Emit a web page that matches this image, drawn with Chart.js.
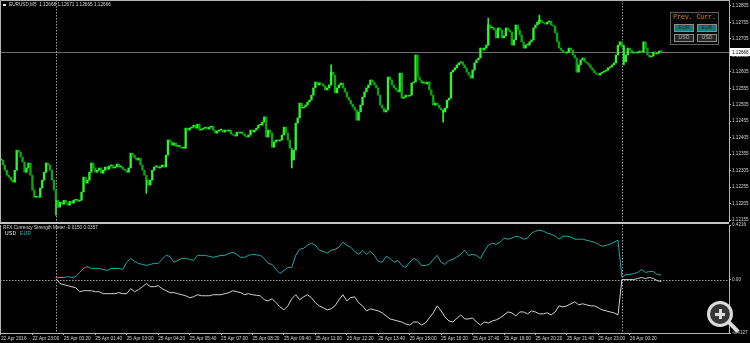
<!DOCTYPE html>
<html>
<head>
<meta charset="utf-8">
<script src="https://cdn.jsdelivr.net/npm/chart.js@4.4.1/dist/chart.umd.min.js"></script>
<style>
  html, body { margin: 0; padding: 0; background: #000; }
  #wrap { position: relative; width: 750px; height: 343px; overflow: hidden; background: #000; font-family: 'Liberation Sans', Arial, sans-serif; }
  canvas { position: absolute; left: 0; }
  #priceChart { top: 0; }
  #indChart { top: 222px; }
  .txt { position: absolute; white-space: pre; color: #d6d6d6; font-size: 4.7px; line-height: 6px; }
  #symIcon { position: absolute; left: 3px; top: 4px; width: 3px; height: 2px; background: #e8e8e8; }
  #panel { position: absolute; left: 670px; top: 12px; width: 47px; height: 31px; border: 1px solid #5c5c5c; background: #080808; }
  #pc { position: absolute; left: 2px; top: 1px; font-family: 'Liberation Mono', monospace; font-size: 6.5px; line-height: 8px; color: #c97d1c; white-space: pre; }
  .btn { position: absolute; width: 18px; height: 6px; border: 1px solid #8c8c8c; font-family: 'Liberation Mono', monospace; font-size: 6px; line-height: 6px; text-align: center; }
  .eur { background: #1a7777; color: #08302f; }
  .usd { background: #262626; color: #a8a8a8; }
  .mg { position: absolute; background: #dcdcdc; }
  #ring { position: absolute; left: 707px; top: 301px; width: 26px; height: 26px; box-sizing: border-box; border: 3px solid #dcdcdc; border-radius: 50%; background: rgba(60,60,60,0.9); }
</style>
</head>
<body>
<div id="wrap">
  <canvas id="priceChart" width="750" height="222"></canvas>
  <canvas id="indChart" width="750" height="121"></canvas>
  <div id="symIcon"></div>
  <div class="txt" id="symTitle" style="left:9px; top:2px;"></div>
  <div class="txt" id="indTitle" style="left:3px; top:225px;"></div>
  <div class="txt" style="left:5px; top:230px; font-family:'Liberation Mono', monospace; font-size:6.2px; line-height:7px;"><span style="color:#d8d8d8">USD</span> <span style="color:#1fa8a8">EUR</span></div>
  <div id="panel">
    <div id="pc">Prev. Curr.</div>
    <div class="btn eur" style="left:3px; top:11px;">EUR</div>
    <div class="btn eur" style="left:26px; top:11px;">EUR</div>
    <div class="btn usd" style="left:3px; top:21px;">USD</div>
    <div class="btn usd" style="left:26px; top:21px;">USD</div>
  </div>
  <div id="ring"></div>
  <div class="mg" style="left:715px; top:312.5px; width:10px; height:3px;"></div>
  <div class="mg" style="left:718.5px; top:309px; width:3px; height:10px;"></div>
  <div class="mg" style="left:727px; top:325px; width:13px; height:4px; transform:rotate(45deg);"></div>
</div>
<script>
const timeLabels = [
  '22 Apr 2016', '22 Apr 23:00', '25 Apr 00:20', '25 Apr 01:40', '25 Apr 03:00',
  '25 Apr 04:20', '25 Apr 05:40', '25 Apr 07:00', '25 Apr 08:20', '25 Apr 09:40',
  '25 Apr 11:00', '25 Apr 12:20', '25 Apr 13:40', '25 Apr 15:00', '25 Apr 16:20',
  '25 Apr 17:40', '25 Apr 19:00', '25 Apr 20:20', '25 Apr 21:40', '25 Apr 23:00',
  '26 Apr 00:20'
];

const priceTicks = [1.12155, 1.12205, 1.12255, 1.12305, 1.12355, 1.12405, 1.12455,
  1.12505, 1.12555, 1.12605, 1.12655, 1.12705, 1.12755, 1.12805];

// EURUSD M5 closes, one per bar
const closes = [
  1.12337, 1.12322, 1.12306, 1.12291, 1.12285, 1.12276, 1.12270, 1.12306, 1.12367, 1.12361,
  1.12346, 1.12331, 1.12300, 1.12313, 1.12328, 1.12291, 1.12246, 1.12224, 1.12227, 1.12224,
  1.12252, 1.12276, 1.12300, 1.12328, 1.12322, 1.12306, 1.12276, 1.12246, 1.12215, 1.12194,
  1.12209, 1.12203, 1.12215, 1.12206, 1.12200, 1.12212, 1.12206, 1.12215, 1.12218, 1.12212,
  1.12215, 1.12240,
  1.12285, 1.12267, 1.12276, 1.12300, 1.12328, 1.12313, 1.12300, 1.12306, 1.12313,
  1.12297, 1.12306, 1.12316, 1.12309, 1.12319, 1.12322, 1.12313, 1.12316, 1.12325, 1.12316,
  1.12316, 1.12309, 1.12306, 1.12300, 1.12313, 1.12358, 1.12352, 1.12343, 1.12337, 1.12343,
  1.12322, 1.12306, 1.12291, 1.12276, 1.12261, 1.12276, 1.12306, 1.12316, 1.12319, 1.12313,
  1.12316, 1.12322, 1.12316, 1.12352, 1.12398, 1.12392, 1.12382, 1.12389, 1.12379, 1.12382,
  1.12376, 1.12373, 1.12373, 1.12434, 1.12428, 1.12434, 1.12437, 1.12443, 1.12434, 1.12446,
  1.12428, 1.12431,
  1.12434, 1.12437, 1.12431, 1.12437, 1.12440, 1.12428, 1.12419, 1.12425, 1.12428,
  1.12428, 1.12422, 1.12428, 1.12425, 1.12428, 1.12416, 1.12413, 1.12410, 1.12422, 1.12419,
  1.12422, 1.12416, 1.12410, 1.12407, 1.12413, 1.12428, 1.12422, 1.12428, 1.12434, 1.12443,
  1.12443, 1.12452, 1.12468, 1.12407, 1.12428, 1.12419, 1.12376, 1.12392, 1.12398, 1.12395,
  1.12398, 1.12413, 1.12437, 1.12419, 1.12398, 1.12373, 1.12337, 1.12367, 1.12449, 1.12465,
  1.12510, 1.12495, 1.12498, 1.12504, 1.12513, 1.12519, 1.12534, 1.12556, 1.12574, 1.12565,
  1.12571, 1.12568,
  1.12562, 1.12550, 1.12556, 1.12565, 1.12604, 1.12595, 1.12541, 1.12556, 1.12565,
  1.12571, 1.12556, 1.12544, 1.12528, 1.12519, 1.12507, 1.12498, 1.12489, 1.12458, 1.12483,
  1.12504, 1.12528, 1.12544, 1.12556, 1.12565, 1.12580, 1.12574, 1.12565, 1.12556, 1.12534,
  1.12504, 1.12495, 1.12483, 1.12489, 1.12589, 1.12580, 1.12565, 1.12556, 1.12550, 1.12544,
  1.12601, 1.12525, 1.12528, 1.12534, 1.12531, 1.12534, 1.12571, 1.12574, 1.12656, 1.12589,
  1.12580, 1.12571, 1.12574, 1.12568, 1.12574, 1.12550, 1.12534, 1.12504, 1.12510, 1.12504,
  1.12495, 1.12489,
  1.12483, 1.12495, 1.12519, 1.12525, 1.12604, 1.12610, 1.12617, 1.12626, 1.12632,
  1.12635, 1.12626, 1.12617, 1.12604, 1.12595, 1.12586, 1.12610, 1.12632, 1.12641, 1.12647,
  1.12677, 1.12671, 1.12677, 1.12686, 1.12747, 1.12738, 1.12738, 1.12732, 1.12708, 1.12738,
  1.12732, 1.12708, 1.12714, 1.12738, 1.12732, 1.12726, 1.12686, 1.12702, 1.12747, 1.12732,
  1.12717, 1.12696, 1.12677, 1.12686, 1.12686, 1.12696, 1.12702, 1.12738, 1.12747, 1.12756,
  1.12762, 1.12756, 1.12753, 1.12750, 1.12756, 1.12759, 1.12747, 1.12744, 1.12723, 1.12696,
  1.12677, 1.12671,
  1.12665, 1.12662, 1.12665, 1.12677, 1.12671, 1.12656, 1.12647, 1.12604, 1.12626,
  1.12641, 1.12647, 1.12635, 1.12632, 1.12626, 1.12617, 1.12610, 1.12601, 1.12598, 1.12595,
  1.12601, 1.12604, 1.12607, 1.12610, 1.12617, 1.12620, 1.12626, 1.12632, 1.12656, 1.12686,
  1.12696, 1.12680, 1.12635, 1.12656, 1.12677, 1.12671, 1.12662, 1.12665, 1.12662, 1.12665,
  1.12668, 1.12665, 1.12696, 1.12677, 1.12656, 1.12650, 1.12653, 1.12665, 1.12659, 1.12662,
  1.12668, 1.12666
];

// the few long shadows that stand out: [bar, low, high]
const wicks = [
  [28, 1.12170, 1.12215], [74, 1.12236, 1.12276], [148, 1.12313, 1.12367],
  [168, 1.12565, 1.12626], [225, 1.12452, 1.12489], [248, 1.12686, 1.12768],
  [274, 1.12750, 1.12777], [317, 1.12626, 1.12686]
];

const lastBarOHLC = [1.12668, 1.12671, 1.12665, 1.12666];

// currency strength, one value every 2 bars from the start of 25 Apr
const eurStrength = [
  0.016, 0.016, 0.016, 0.023, 0.016, 0.023, 0.055, 0.086, 0.101, 0.086,
  0.086, 0.086, 0.078, 0.070, 0.086, 0.086, 0.086, 0.078, 0.133, 0.164,
  0.140, 0.125, 0.117, 0.109, 0.117, 0.125, 0.125, 0.156, 0.187, 0.179,
  0.133, 0.148, 0.164, 0.164, 0.156, 0.148, 0.187, 0.187, 0.187, 0.179,
  0.172, 0.179, 0.187, 0.187, 0.203, 0.211, 0.195, 0.172, 0.172, 0.187,
  0.195, 0.191, 0.187, 0.164, 0.125, 0.117, 0.078, 0.047, 0.070, 0.094, 0.094,
  0.187, 0.234, 0.242, 0.265, 0.281, 0.265, 0.226, 0.218, 0.203, 0.226,
  0.234, 0.250, 0.289, 0.265, 0.250, 0.218, 0.195, 0.226, 0.195, 0.218,
  0.187, 0.140, 0.133, 0.179, 0.164, 0.133, 0.148, 0.109, 0.094, 0.133,
  0.164, 0.148, 0.109, 0.109, 0.117, 0.156, 0.187, 0.133, 0.117, 0.148,
  0.156, 0.175, 0.195, 0.226, 0.187, 0.195, 0.187, 0.164, 0.218, 0.265, 0.281,
  0.273, 0.289, 0.320, 0.312, 0.320, 0.335, 0.328, 0.312, 0.320, 0.359,
  0.374, 0.382, 0.374, 0.359, 0.351, 0.335, 0.312, 0.335, 0.335, 0.328,
  0.312, 0.312, 0.312, 0.304, 0.296, 0.289, 0.273, 0.257, 0.265, 0.273,
  0.289, 0.304,
  0.016, 0.039, 0.039, 0.047, 0.055, 0.078, 0.055, 0.062, 0.062, 0.039, 0.0357
];

const usdStrength = [
  0.008, -0.031, -0.039, -0.047, -0.055, -0.062, -0.094, -0.086, -0.086, -0.086,
  -0.094, -0.094, -0.109, -0.109, -0.109, -0.109, -0.101, -0.109, -0.109, -0.070,
  -0.094, -0.078, -0.055, -0.031, -0.055, -0.055, -0.047, -0.070, -0.086, -0.101,
  -0.101, -0.109, -0.117, -0.125, -0.140, -0.133, -0.117, -0.125, -0.125, -0.125,
  -0.117, -0.117, -0.117, -0.109, -0.101, -0.086, -0.094, -0.101, -0.117, -0.109,
  -0.117, -0.121, -0.125, -0.156, -0.164, -0.148, -0.179, -0.211, -0.234, -0.203, -0.148,
  -0.117, -0.156, -0.133, -0.117, -0.140, -0.179, -0.203, -0.218, -0.234, -0.226,
  -0.203, -0.156, -0.117, -0.164, -0.140, -0.133, -0.179, -0.203, -0.242, -0.226,
  -0.234, -0.242, -0.257, -0.281, -0.304, -0.312, -0.320, -0.328, -0.343, -0.351,
  -0.328, -0.328, -0.351, -0.335, -0.296, -0.257, -0.203, -0.242, -0.289, -0.320,
  -0.328, -0.300, -0.273, -0.304, -0.304, -0.296, -0.328, -0.351, -0.328, -0.335, -0.320,
  -0.312, -0.296, -0.273, -0.250, -0.257, -0.281, -0.250, -0.250, -0.265, -0.242,
  -0.250, -0.265, -0.265, -0.257, -0.273, -0.250, -0.203, -0.211, -0.203, -0.187,
  -0.172, -0.195, -0.187, -0.195, -0.203, -0.203, -0.218, -0.234, -0.242, -0.250,
  -0.257, -0.273,
  0, 0, 0, 0, 0.008, 0.016, 0.008, 0.016, 0.008, -0.008, -0.0150
];

const indTicks = [0.4216, 0, -0.4127];
const dayStartBars = [28, 316];
const barsPerLabel = 16;
const indStartBar = 28;
const indStep = 2;
const totalSlots = 371;

const upColor = '#2cf52c';
const downColor = '#0aa80a';
const eurColor = '#1fa8a8';
const usdColor = '#d0d0d0';
const axisColor = '#b4b4b4';
const textColor = '#d4d4d4';

const slotLabels = [];
for (let j = 0; j < totalSlots; j++) {
  const t = j % barsPerLabel === 0 ? timeLabels[j / barsPerLabel] : undefined;
  slotLabels.push(t || '');
}

const opens = closes.map((c, i) => i === 0 ? c : closes[i - 1]);
const bodies = closes.map((c, i) => [opens[i], c]);
const bodyColors = closes.map((c, i) => c >= opens[i] ? upColor : downColor);

const shadowData = slotLabels.map(() => null);
wicks.forEach(([b, lo, hi]) => { shadowData[b] = [lo, hi]; });

const eurLine = slotLabels.map(() => null);
const usdLine = slotLabels.map(() => null);
eurStrength.forEach((v, k) => { eurLine[indStartBar + indStep * k] = v; });
usdStrength.forEach((v, k) => { usdLine[indStartBar + indStep * k] = v; });

document.getElementById('symTitle').textContent =
  'EURUSD,M5  ' + lastBarOHLC.map(v => v.toFixed(5)).join(' ');
document.getElementById('indTitle').textContent =
  'RFX Currency Strength Meter ' + usdStrength[usdStrength.length - 1].toFixed(4) + ' ' +
  eurStrength[eurStrength.length - 1].toFixed(4);

function daySeparators(chart) {
  const { ctx, chartArea: a, scales: { x } } = chart;
  ctx.save();
  ctx.strokeStyle = '#a0a0a0';
  ctx.lineWidth = 1;
  ctx.setLineDash([1.5, 1.5]);
  dayStartBars.forEach(b => {
    const px = Math.round(x.getPixelForValue(b)) + 0.5;
    ctx.beginPath();
    ctx.moveTo(px, a.top);
    ctx.lineTo(px, a.bottom);
    ctx.stroke();
  });
  ctx.restore();
}

const priceOverlay = {
  id: 'priceOverlay',
  beforeDatasetsDraw(chart) {
    const { ctx, chartArea: a, scales: { y } } = chart;
    const py = Math.round(y.getPixelForValue(closes[closes.length - 1])) + 0.5;
    ctx.save();
    ctx.strokeStyle = '#6c6c72';
    ctx.lineWidth = 1;
    ctx.beginPath();
    ctx.moveTo(a.left, py);
    ctx.lineTo(a.right, py);
    ctx.stroke();
    ctx.restore();
    daySeparators(chart);
  },
  afterDraw(chart) {
    const { ctx, chartArea: a, scales: { y } } = chart;
    const py = Math.round(y.getPixelForValue(closes[closes.length - 1]));
    ctx.save();
    ctx.strokeStyle = axisColor;
    ctx.lineWidth = 1;
    ctx.beginPath();
    ctx.moveTo(0.5, a.bottom);
    ctx.lineTo(0.5, 0.5);
    ctx.lineTo(a.right, 0.5);
    ctx.stroke();
    ctx.fillStyle = '#ffffff';
    ctx.fillRect(a.right + 1, py - 4, 750 - a.right - 1, 8);
    ctx.fillStyle = '#000000';
    ctx.font = '4.6px "Liberation Sans"';
    ctx.textBaseline = 'middle';
    ctx.fillText(closes[closes.length - 1].toFixed(5), a.right + 3, py + 0.5);
    ctx.restore();
  }
};

const indOverlay = {
  id: 'indOverlay',
  beforeDatasetsDraw(chart) {
    const { ctx, chartArea: a, scales: { y } } = chart;
    const zy = Math.round(y.getPixelForValue(0)) + 0.5;
    ctx.save();
    ctx.strokeStyle = '#a0a0a0';
    ctx.lineWidth = 1;
    ctx.setLineDash([1.5, 1.5]);
    ctx.beginPath();
    ctx.moveTo(a.left, zy);
    ctx.lineTo(a.right, zy);
    ctx.stroke();
    ctx.restore();
    daySeparators(chart);
  },
  afterDraw(chart) {
    const { ctx, chartArea: a } = chart;
    ctx.save();
    ctx.fillStyle = '#c4c4c4';
    ctx.fillRect(0, 0, a.right, 2);
    ctx.strokeStyle = axisColor;
    ctx.lineWidth = 1;
    ctx.beginPath();
    ctx.moveTo(0.5, a.top);
    ctx.lineTo(0.5, a.bottom);
    ctx.stroke();
    ctx.restore();
  }
};

const smallFont = { family: 'Liberation Sans', size: 4.6 };

new Chart(document.getElementById('priceChart'), {
  type: 'bar',
  data: {
    labels: slotLabels,
    datasets: [
      {
        data: shadowData,
        backgroundColor: upColor,
        barThickness: 1,
        borderWidth: 0,
        grouped: false
      },
      {
        data: bodies,
        backgroundColor: bodyColors,
        barThickness: 1.7,
        minBarLength: 1,
        borderWidth: 0,
        grouped: false
      }
    ]
  },
  options: {
    responsive: false,
    animation: false,
    events: [],
    layout: { padding: 0 },
    plugins: { legend: { display: false }, tooltip: { enabled: false } },
    scales: {
      x: { display: false, offset: true },
      y: {
        position: 'right',
        min: 1.12149,
        max: 1.12823,
        afterBuildTicks: s => { s.ticks = priceTicks.map(v => ({ value: v })); },
        afterFit: s => { s.width = 21; s.paddingTop = 0; s.paddingBottom = 0; },
        border: { color: axisColor },
        grid: { display: true, drawOnChartArea: false, drawTicks: true, tickLength: 2, color: axisColor },
        ticks: { color: textColor, padding: 1, font: smallFont, callback: v => v.toFixed(5) }
      }
    }
  },
  plugins: [priceOverlay]
});

new Chart(document.getElementById('indChart'), {
  type: 'line',
  data: {
    labels: slotLabels,
    datasets: [
      { label: 'EUR', data: eurLine, borderColor: eurColor, borderWidth: 1, pointRadius: 0, tension: 0, spanGaps: true },
      { label: 'USD', data: usdLine, borderColor: usdColor, borderWidth: 1, pointRadius: 0, tension: 0, spanGaps: true }
    ]
  },
  options: {
    responsive: false,
    animation: false,
    events: [],
    layout: { padding: { top: 3, left: 0, right: 0, bottom: 0 } },
    plugins: { legend: { display: false }, tooltip: { enabled: false } },
    scales: {
      x: {
        offset: true,
        afterBuildTicks: s => { s.ticks = s.ticks.filter(t => slotLabels[t.value] !== ''); },
        afterFit: s => { s.height = 10; s.paddingLeft = 0; s.paddingRight = 0; },
        border: { color: axisColor },
        grid: { display: true, drawOnChartArea: false, drawTicks: true, tickLength: 2, color: axisColor, offset: false },
        ticks: { color: textColor, padding: 1, align: 'start', autoSkip: false, maxRotation: 0, font: { family: 'Liberation Sans', size: 4.7 } }
      },
      y: {
        position: 'right',
        min: indTicks[2],
        max: indTicks[0],
        afterBuildTicks: s => { s.ticks = indTicks.map(v => ({ value: v })); },
        afterFit: s => { s.width = 21; s.paddingTop = 0; s.paddingBottom = 0; },
        border: { color: axisColor },
        grid: { display: true, drawOnChartArea: false, drawTicks: true, tickLength: 2, color: axisColor },
        ticks: { color: textColor, padding: 1, font: smallFont, callback: v => v === 0 ? '0.00' : v.toFixed(4) }
      }
    }
  },
  plugins: [indOverlay]
});
</script>
</body>
</html>
